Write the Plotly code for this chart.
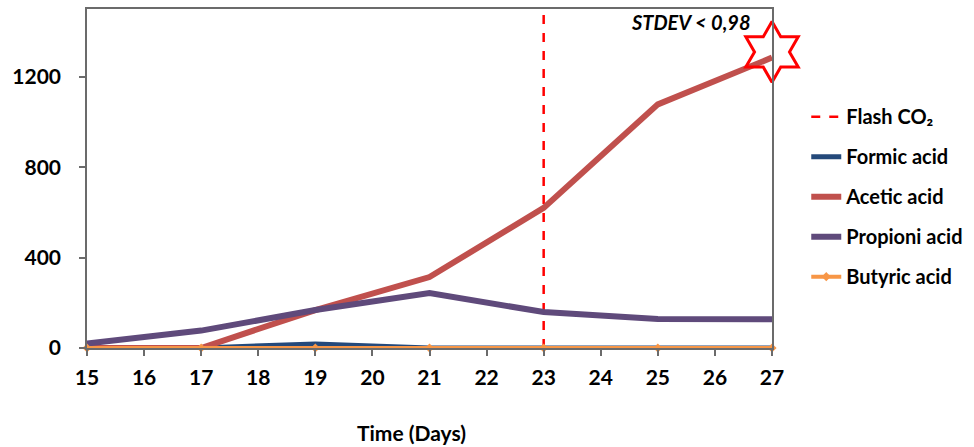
import plotly.graph_objects as go

# Sampling days and measured acid concentrations
days = [15, 17, 19, 21, 23, 25, 27]
formic = [0, 0, 18, 0, 0, 0, 0]
acetic = [0, 0, 168, 314, 620, 1078, 1285]
propionic = [20, 77, 168, 243, 159, 128, 127]
butyric = [0, 0, 0, 0, 0, 0, 0]

flash_day = 23
y_max = 1500
y_ticks = [0, 400, 800, 1200]
x_ticks = list(range(15, 28))

font_family = "Lato"
axis_color = "#6b6b6b"

fig = go.Figure()

fig.add_trace(go.Scatter(
    x=[flash_day, flash_day], y=[0, y_max], mode="lines",
    name="Flash CO₂", legendgroup="g0",
    line=dict(color="#ff0000", width=2.5, dash="dash"),
))
fig.add_trace(go.Scatter(
    x=days, y=formic, mode="lines", name="Formic acid", legendgroup="g1",
    line=dict(color="#24497a", width=5),
))
fig.add_trace(go.Scatter(
    x=days, y=acetic, mode="lines", name="Acetic acid", legendgroup="g2",
    line=dict(color="#c0504d", width=6),
))
fig.add_trace(go.Scatter(
    x=days, y=propionic, mode="lines", name="Propioni acid", legendgroup="g3",
    line=dict(color="#5f4a7b", width=6),
))
fig.add_trace(go.Scatter(
    x=days, y=butyric, mode="lines+markers", name="Butyric acid", legendgroup="g4",
    line=dict(color="#f79646", width=4),
    marker=dict(color="#f79646", size=7, symbol="diamond"),
    cliponaxis=False,
))

# Star highlighting the final acetic acid value
fig.add_trace(go.Scatter(
    x=[days[-1]], y=[acetic[-1] + 25], mode="markers", showlegend=False,
    marker=dict(symbol="hexagram-open", size=46, color="#ff0000",
                line=dict(color="#ff0000", width=3)),
    cliponaxis=False, hoverinfo="skip",
))

fig.add_annotation(
    x=0.972, y=0.962, xref="paper", yref="paper", xanchor="right", yanchor="middle",
    text="<b><i>STDEV &lt; 0,98</i></b>", showarrow=False,
    font=dict(family=font_family, size=20, color="#000000"),
)

# x-axis title
fig.add_annotation(
    x=0.473, y=-0.248, xref="paper", yref="paper", xanchor="center", yanchor="middle",
    text="<b>Time (Days)</b>", showarrow=False,
    font=dict(family=font_family, size=21, color="#000000"),
)

fig.update_xaxes(
    range=[15, 27], tickvals=x_ticks, ticks="outside", ticklen=6, tickwidth=1.5,
    tickcolor=axis_color, showline=True, linecolor=axis_color, linewidth=1.5,
    mirror=True, showgrid=False, zeroline=False, ticklabelstandoff=4,
    tickfont=dict(family=font_family, size=21, color="#000000", weight="bold"),
)
fig.update_yaxes(
    range=[0, y_max], tickvals=y_ticks, ticks="outside", ticklen=6, tickwidth=1.5,
    tickcolor=axis_color, showline=True, linecolor=axis_color, linewidth=1.5,
    mirror=True, showgrid=False, zeroline=False, ticklabelstandoff=14,
    tickfont=dict(family=font_family, size=21, color="#000000", weight="bold"),
)

fig.update_layout(
    width=974, height=447,
    margin=dict(l=87, r=202, t=9, b=99, autoexpand=False),
    plot_bgcolor="#ffffff", paper_bgcolor="#ffffff",
    legend=dict(
        x=1.05, y=0.74, xanchor="left", yanchor="top",
        traceorder="grouped", tracegroupgap=11, itemwidth=30,
        font=dict(family=font_family, size=20, color="#000000", weight="bold"),
        bgcolor="rgba(0,0,0,0)",
    ),
    showlegend=True,
)

fig.write_html("out.html")
